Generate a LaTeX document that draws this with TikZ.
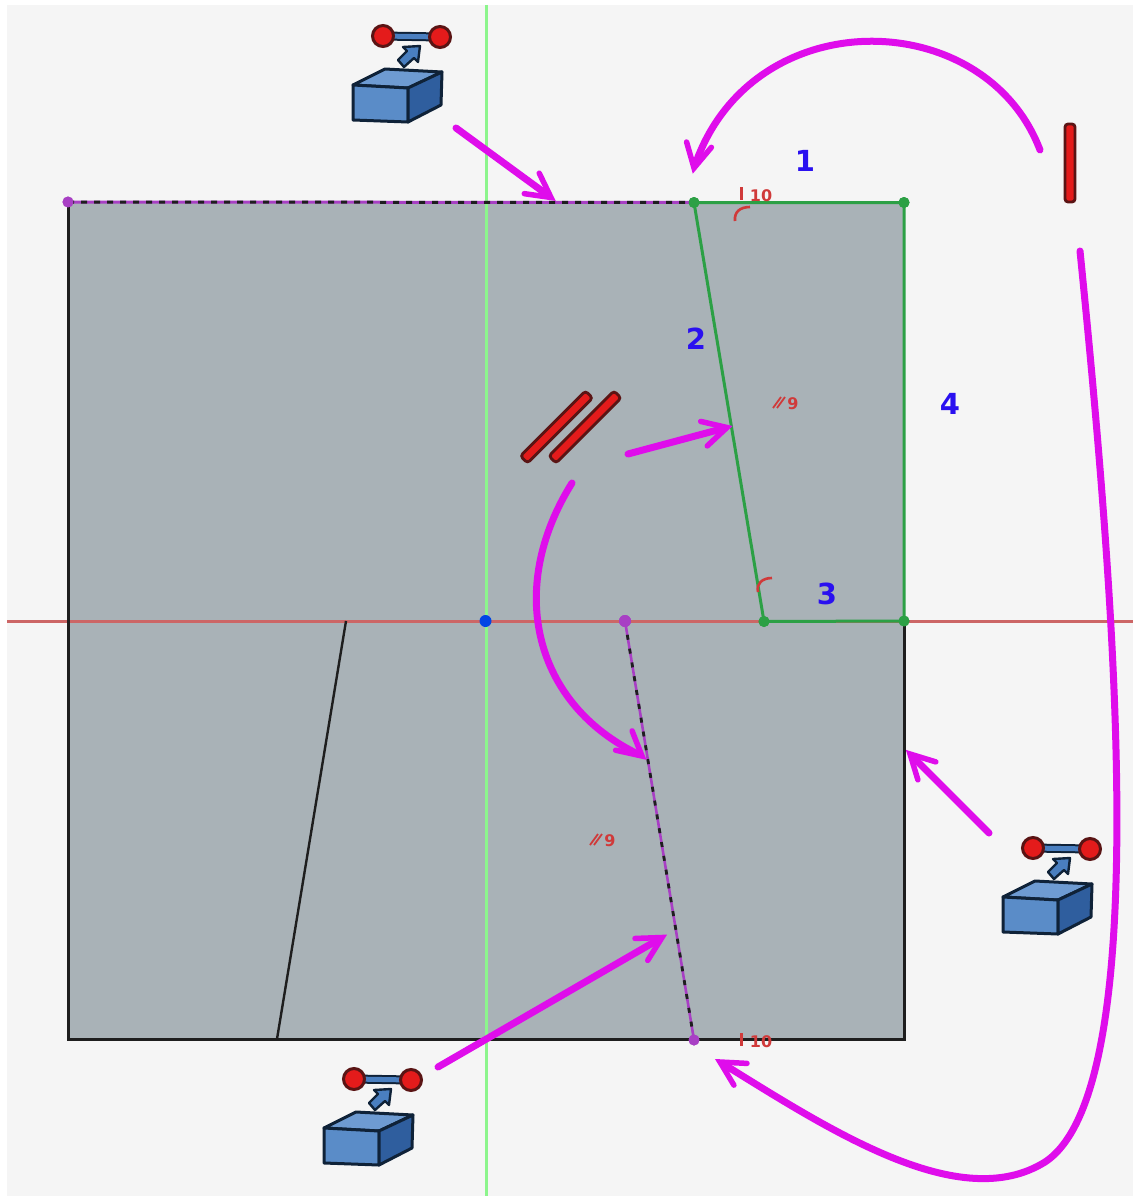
\documentclass[tikz,border=0pt]{standalone}
\usepackage{fontspec}
\setmainfont{DejaVu Sans}
\usetikzlibrary{calc}
\definecolor{bgc}{HTML}{F5F5F5}
\definecolor{facec}{HTML}{A9B2B7}
\definecolor{edgec}{HTML}{1E1E1E}
\definecolor{greenc}{HTML}{2CA045}
\definecolor{purplec}{HTML}{A83FC4}
\definecolor{magc}{HTML}{DF0DEB}
\definecolor{redc}{HTML}{D03A3A}
\definecolor{axisr}{HTML}{CC6666}
\definecolor{axisg}{HTML}{8CF58C}
\definecolor{bluec}{HTML}{2A10F0}
\definecolor{icond}{HTML}{0F2238}
\definecolor{icontop}{HTML}{6E9BD2}
\definecolor{iconfront}{HTML}{5A8CC8}
\definecolor{iconright}{HTML}{2F5E9E}
\definecolor{iconbar}{HTML}{4A7FC0}
\definecolor{iconred}{HTML}{E41B1B}
\definecolor{iconredd}{HTML}{5A1414}
\tikzset{
  callout/.style={line width=7pt,color=magc,line cap=round,line join=round,shorten >=3pt},
  calloutend/.style={line width=5.5pt,color=magc,line cap=round,line join=miter,miter limit=10},
  edgeline/.style={line width=3pt,color=edgec},
  greenline/.style={line width=3pt,color=greenc},
  gdot/.style={circle,fill=greenc,inner sep=0pt,minimum size=11pt},
  pdot/.style={circle,fill=purplec,inner sep=0pt,minimum size=11pt},
  num/.style={text=bluec,font=\fontsize{29}{29}\selectfont\bfseries,inner sep=0pt},
  cons/.style={text=redc,font=\fontsize{16}{16}\selectfont\bfseries,inner sep=0pt},
  consline/.style={color=redc,line width=2.4pt},
  redbar/.style={rectangle,rounded corners=3pt,draw=iconredd,fill=iconred,line width=2.8pt,inner sep=0pt,minimum width=10pt},
  iconline/.style={draw=icond,line width=3pt,line join=round},
}
\newcommand{\chevron}[2]{\draw[calloutend] ($(#1)!27pt!28:(#2)$) -- (#1) -- ($(#1)!27pt!-28:(#2)$);}
\newcommand{\constructionicon}[2]{%
  \begin{scope}[shift={(#1,#2)}]
    \draw[line width=9pt,color=icond] (383,36) -- (440,37);
    \draw[line width=5pt,color=iconbar] (383,36) -- (440,37);
    \filldraw[fill=iconred,draw=iconredd,line width=3pt] (383,36) circle (10.5);
    \filldraw[fill=iconred,draw=iconredd,line width=3pt] (440,37) circle (10.5);
    \filldraw[fill=iconbar,iconline,line width=2.4pt] (398,60) -- (407,51) -- (403,47) -- (420,46) -- (418,62) -- (414,58) -- (404,67) -- cycle;
    \filldraw[fill=icontop,iconline] (353,85) -- (385,69) -- (442,72) -- (408,88) -- cycle;
    \filldraw[fill=iconfront,iconline] (353,85) -- (408,88) -- (408,122) -- (353,120) -- cycle;
    \filldraw[fill=iconright,iconline] (408,88) -- (442,72) -- (441,105) -- (408,122) -- cycle;
  \end{scope}}
\begin{document}
\begin{tikzpicture}[x=1pt,y=-1pt]
\useasboundingbox (0,0) rectangle (1133,1196);
\fill[white] (0,0) rectangle (1133,1196);
\fill[bgc] (7,5) rectangle (1133,1196);
% face
\fill[facec] (68,203) rectangle (904,1039);
% axes
\coordinate (axT) at (486,5); \coordinate (axB) at (486,1196);
\coordinate (axL) at (7,621.5); \coordinate (axR) at (1133,621.5);
\draw[axisg,line width=3pt] (axT) -- (axB);
\draw[axisr,line width=2.4pt] (axL) -- (axR);
% vertices
\node[pdot] (tl) at (68,202) {};
\node[gdot] (t2) at (694,202.5) {};
\node[gdot] (tr) at (904,202.5) {};
\node[gdot] (m2) at (764,621.5) {};
\node[gdot] (mr) at (904,621) {};
\node[pdot,minimum size=12pt] (mc) at (625,621) {};
\node[pdot] (b2) at (694,1040) {};
\node[circle,fill=blue!70!cyan!90!black,inner sep=0pt,minimum size=12pt] (origin) at (485.5,621) {};
\coordinate (bl) at (68,1039); \coordinate (br) at (904,1039);
\coordinate (ml) at (346,621); \coordinate (bm) at (277,1039);
% edges
\draw[edgeline] (tl.center) -- (bl) -- (br) -- (mr.center);
\draw[edgec,line width=2.4pt] (ml) -- (bm);
\draw[purplec,line width=3pt] (tl.center) -- (t2.center);
\draw[edgec,line width=3pt,dash pattern=on 6pt off 7pt] (tl.center) -- (t2.center);
\draw[purplec,line width=2.6pt] (mc.center) -- (b2.center);
\draw[edgec,line width=2.8pt,dash pattern=on 5pt off 9pt] (mc.center) -- (b2.center);
\draw[greenline] (t2.center) -- (tr.center) -- (mr.center) -- (m2.center) -- (t2.center);
\node[pdot] at (tl) {};\node[gdot] at (t2) {};\node[gdot] at (tr) {};\node[gdot] at (m2) {};\node[gdot] at (mr) {};\node[pdot,minimum size=12pt] at (mc) {};\node[pdot] at (b2) {};
% numbers
\node[num] (n1) at (805,161) {1};
\node[num] (n2) at (696,339) {2};
\node[num] (n3) at (827,594) {3};
\node[num] (n4) at (950,404) {4};
% constraints
\node[cons] (c10a) at (761,196) {10};
\node[cons] (c10b) at (761,1042) {10};
\node[cons] (c9a) at (793,404) {9};
\node[cons] (c9b) at (610,841) {9};
\draw[consline] (741.5,187) -- (741.5,200);
\draw[consline] (741.5,1033) -- (741.5,1046);
\draw[consline,line width=1.8pt] (773,408) -- (781,397) (777,408) -- (785,397);
\draw[consline,line width=1.8pt] (590,845) -- (598,834) (594,845) -- (602,834);
\draw[consline,line width=2.6pt] (735,221) .. controls (734,212) and (740,207) .. (750,207);
\draw[consline,line width=2.6pt] (758,592) .. controls (756,584) and (762,578) .. (772,578);
% red tool icons
\node[redbar,minimum height=78pt] (vbar) at (1070,163) {};
\node[redbar,minimum height=92pt,rotate=-45] (pbar1) at (556.5,427) {};
\node[redbar,minimum height=92pt,rotate=-45] (pbar2) at (585,427) {};
% construction icons
\constructionicon{0}{0}
\constructionicon{650}{812}
\constructionicon{-29}{1043}
% callouts
\coordinate (a1s) at (1040,150); \coordinate (a1e) at (694,168); \coordinate (a1t) at (700,140);
\draw[callout] (a1s) .. controls (985,5) and (752,0) .. (a1e);
\chevron{a1e}{a1t}
\coordinate (a2s) at (1080,251); \coordinate (a2e) at (720,1062); \coordinate (a2t) at (780,1098);
\draw[callout] (a2s) .. controls (1115,600) and (1155,1090) .. (1045,1162) .. controls (960,1215) and (830,1130) .. (a2e);
\chevron{a2e}{a2t}
\coordinate (a3s) at (456,128); \coordinate (a3e) at (551,197.5);
\draw[callout] (a3s) -- (a3e);
\chevron{a3e}{a3s}
\coordinate (a4s) at (628,454); \coordinate (a4e) at (727,427.5);
\draw[callout] (a4s) -- (a4e);
\chevron{a4e}{a4s}
\coordinate (a5s) at (572,483); \coordinate (a5e) at (642,756); \coordinate (a5t) at (615,733);
\draw[callout] (a5s) .. controls (505,590) and (535,705) .. (a5e);
\chevron{a5e}{a5t}
\coordinate (a6s) at (989,833); \coordinate (a6e) at (910,754);
\draw[callout] (a6s) -- (a6e);
\chevron{a6e}{a6s}
\coordinate (a7s) at (438,1067); \coordinate (a7e) at (662,937.5);
\draw[callout] (a7s) -- (a7e);
\chevron{a7e}{a7s}
\end{tikzpicture}
\end{document}
